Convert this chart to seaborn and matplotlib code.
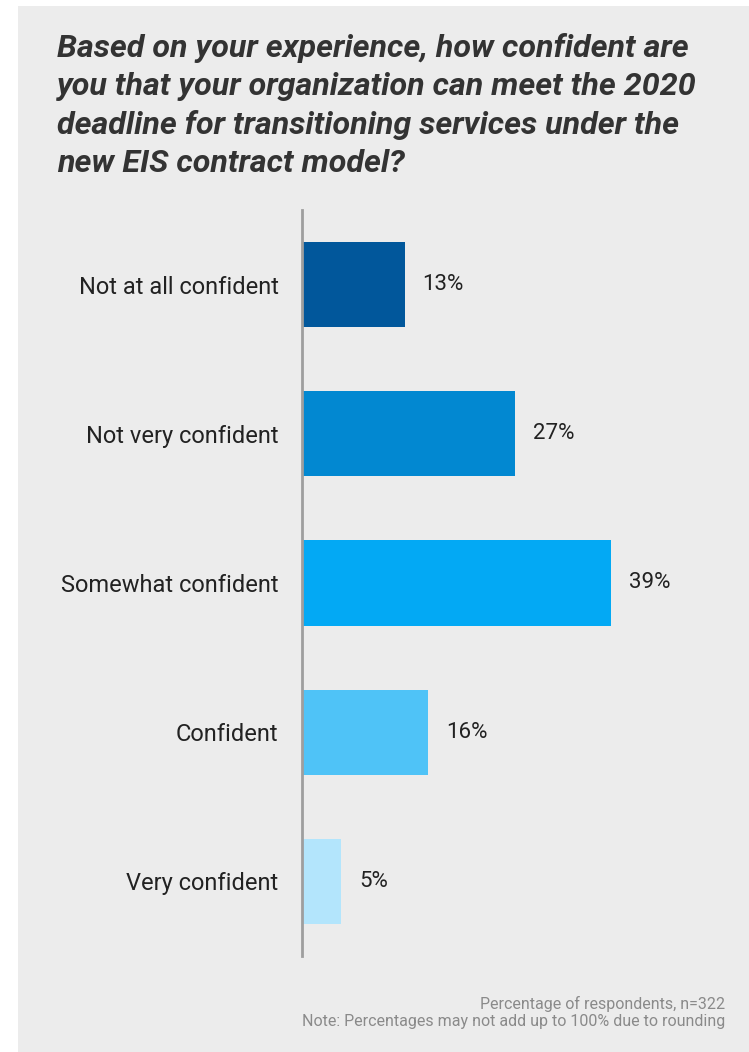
import matplotlib
matplotlib.use("Agg")
import matplotlib.pyplot as plt
import seaborn as sns
import pandas as pd
from matplotlib.patches import Rectangle

categories = ["Not at all confident", "Not very confident", "Somewhat confident",
              "Confident", "Very confident"]
values = [13, 27, 39, 16, 5]
bar_colors = ["#01579B", "#0288D1", "#03A9F4", "#4FC3F7", "#B3E5FC"]

title = ("Based on your experience, how confident are\n"
         "you that your organization can meet the 2020\n"
         "deadline for transitioning services under the\n"
         "new EIS contract model?")
note = ("Percentage of respondents, n=322\n"
        "Note: Percentages may not add up to 100% due to rounding")

sns.set_theme(style="white")
plt.rcParams["font.family"] = ["Roboto", "DejaVu Sans"]

W, H = 749, 1052
fig = plt.figure(figsize=(W / 100, H / 100), dpi=100)
fig.patch.set_facecolor("white")

# gray card behind everything
fig.patches.append(Rectangle((18 / W, 0), 1 - 18 / W, 1 - 6 / H,
                             transform=fig.transFigure, facecolor="#ECECEC",
                             edgecolor="none", zorder=-5))

ax_left, ax_right = 301.5, 720
ax_top, ax_bottom = 210, 956
ax = fig.add_axes([ax_left / W, 1 - ax_bottom / H,
                   (ax_right - ax_left) / W, (ax_bottom - ax_top) / H])
ax.set_facecolor("none")
ax.set_zorder(1)

df = pd.DataFrame({"category": categories, "value": values})
sns.barplot(data=df, x="value", y="category", hue="category",
            palette=bar_colors, legend=False, width=0.57, ax=ax,
            saturation=1, edgecolor="none", linewidth=0)

px_per_unit = 103 / 13
ax.set_xlim(0, (ax_right - ax_left) / px_per_unit)
ax.set_ylim(4.5, -0.5)

for i, v in enumerate(values):
    ax.text(v + 18 / px_per_unit, i, f"{v}%", va="center", ha="left",
            fontsize=16.0, color="#222222")

ax.set_xticks([])
ax.set_xlabel("")
ax.set_ylabel("")
ax.tick_params(axis="y", length=0, pad=16.5, labelsize=17.0, labelcolor="#222222")
for s in ["top", "right", "bottom"]:
    ax.spines[s].set_visible(False)
ax.spines["left"].set_color("#9E9E9E")
ax.spines["left"].set_linewidth(2)

fig.text(57 / W, 1 - 33 / H, title, ha="left", va="top", fontsize=23.2,
         fontweight="bold", fontstyle="italic", color="#333333",
         linespacing=1.38)

fig.text(725 / W, 1 - 1029 / H, note, ha="right", va="bottom", fontsize=11.5,
         color="#8A8A8A", linespacing=1.2)

fig.savefig("out.png", dpi=100, facecolor=fig.get_facecolor())
